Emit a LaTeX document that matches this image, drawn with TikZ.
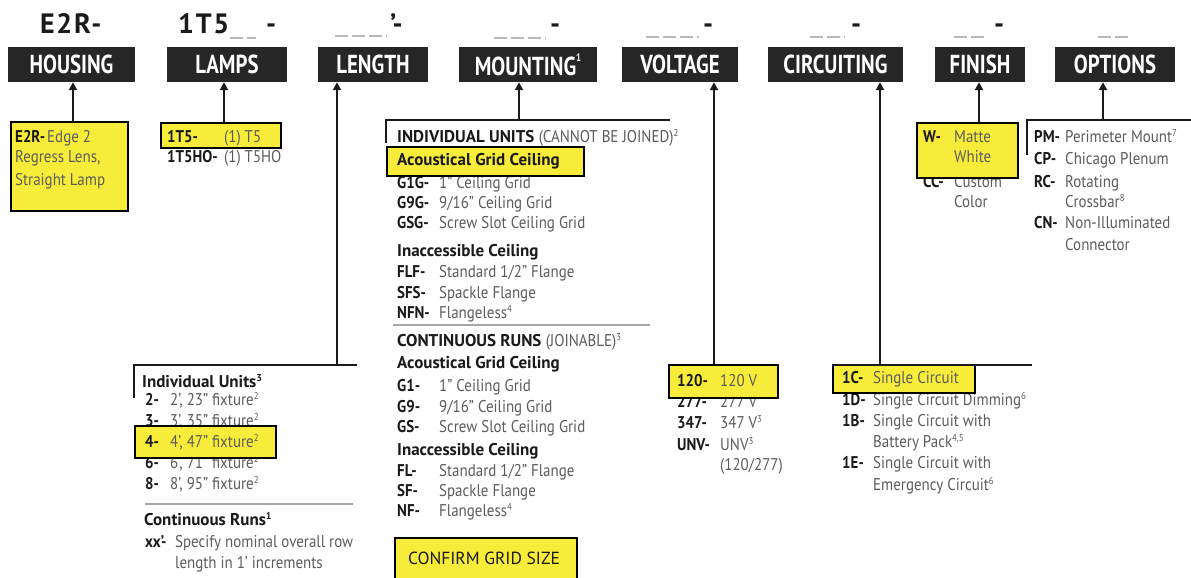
\documentclass[tikz,border=0pt]{standalone}
\usepackage{fontspec}
\setmainfont{PT Sans}[FakeStretch=0.88]
\newfontfamily\hdrfont{PT Sans}[FakeStretch=0.8]
\newfontfamily\heavyfont{PT Sans}
\newfontfamily\topfont{PT Sans}[LetterSpace=6]
\usetikzlibrary{arrows.meta}
\definecolor{hdr}{HTML}{262626}
\definecolor{yel}{HTML}{F7EC3A}
\definecolor{dsc}{HTML}{5C5C5C}
\definecolor{cod}{HTML}{1A1A1A}
\newcommand\sups[1]{\raisebox{0.38em}{\fontsize{10}{10}\selectfont #1}}
\begin{document}
\begin{tikzpicture}[x=1pt,y=-1pt,
 hdrbox/.style={fill=hdr, text=white, font=\hdrfont\bfseries\fontsize{26}{26}\selectfont, minimum height=35pt, inner sep=0pt},
 ybox/.style={fill=yel, draw=black, line width=2pt, inner sep=0pt, anchor=north west},
 cd/.style={anchor=base west, inner sep=0pt, text=cod, font=\bfseries\fontsize{17}{20}\selectfont},
 ds/.style={anchor=base west, inner sep=0pt, text=dsc, font=\fontsize{17}{20}\selectfont},
 hd/.style={anchor=base west, inner sep=0pt, text=cod, font=\heavyfont\bfseries\fontsize{17}{20}\selectfont},
 topc/.style={anchor=base west, inner sep=0pt, text=cod, font=\topfont\bfseries\fontsize{28}{28}\selectfont},
 blank/.style={draw=gray!55, line width=2pt, dash pattern=on 13pt off 4pt},
 arr/.style={line width=2.5pt, draw=cod, -{Triangle[length=8pt,width=8pt]}},
 brk/.style={line width=2.5pt, draw=cod},
 sep/.style={line width=2pt, draw=gray!70}]
\useasboundingbox (0,0) rectangle (1191,578);
\fill[white] (0,0) rectangle (1191,578);

% ---- top code row
\node[topc] (c1) at (40,34) {E2R-};
\node[topc] (c2) at (178,34) {1T5};
\draw[blank] (230,38) -- (256,38);
\node[topc] (c2d) at (266,34) {-};
\draw[blank] (335,36) -- (387,36);
\node[topc] (c3d) at (390,34) {’-};
\draw[blank] (494,38) -- (546,38);
\node[topc] (c4d) at (550,34) {-};
\draw[blank] (646,37) -- (699,37);
\node[topc] (c5d) at (703,34) {-};
\draw[blank] (810,37) -- (845,37);
\node[topc] (c6d) at (851,34) {-};
\draw[blank] (954,37) -- (988,37);
\node[topc] (c7d) at (994,34) {-};
\draw[blank] (1098,37) -- (1132,37);

% ---- header boxes
\node[hdrbox, minimum width=127pt] (hou) at (71.5,64.5) {HOUSING};
\node[hdrbox, minimum width=120pt] (lam) at (227,64.5) {LAMPS};
\node[hdrbox, minimum width=110pt] (len) at (373,64.5) {LENGTH};
\node[hdrbox, minimum width=138pt] (mou) at (528,64.5) {MOUNTING\raisebox{0.55em}{\fontsize{11}{11}\selectfont 1}};
\node[hdrbox, minimum width=116pt] (vol) at (680,64.5) {VOLTAGE};
\node[hdrbox, minimum width=135pt] (cir) at (835.5,64.5) {CIRCUITING};
\node[hdrbox, minimum width=90pt] (fin) at (980,64.5) {FINISH};
\node[hdrbox, minimum width=120pt] (opt) at (1115,64.5) {OPTIONS};

% ---- non-highlighted text
% lamps
\node[cd] (t5hoc) at (167,162.5) {1T5HO-};
\node[ds] (t5hod) at (224,162.5) {(1) T5HO};
% mounting
\node[hd] (iu) at (397,142.5) {INDIVIDUAL UNITS \normalfont\mdseries\color{dsc}(CANNOT BE JOINED)\sups{2}};
\node[cd] (g1gc) at (397,188.5) {G1G-};
\node[ds] (g1gd) at (439,188.5) {1” Ceiling Grid};
\node[cd] (g9gc) at (397,208.5) {G9G-};
\node[ds] (g9gd) at (439,208.5) {9/16” Ceiling Grid};
\node[cd] (gsgc) at (397,228.5) {GSG-};
\node[ds] (gsgd) at (439,228.5) {Screw Slot Ceiling Grid};
\node[hd] (ic1) at (397,256.5) {Inaccessible Ceiling};
\node[cd] (flfc) at (397,277.5) {FLF-};
\node[ds] (flfd) at (439,277.5) {Standard 1/2” Flange};
\node[cd] (sfsc) at (397,298.5) {SFS-};
\node[ds] (sfsd) at (439,298.5) {Spackle Flange};
\node[cd] (nfnc) at (397,318.5) {NFN-};
\node[ds] (nfnd) at (439,318.5) {Flangeless\sups{4}};
\draw[sep] (393,325) -- (650,325);
\node[hd] (cr) at (397,346.5) {CONTINUOUS RUNS \normalfont\mdseries\color{dsc}(JOINABLE)\sups{3}};
\node[hd] (agc2) at (397,368.5) {Acoustical Grid Ceiling};
\node[cd] (g1c) at (397,391.5) {G1-};
\node[ds] (g1d) at (439,391.5) {1” Ceiling Grid};
\node[cd] (g9c) at (397,412.5) {G9-};
\node[ds] (g9d) at (439,412.5) {9/16” Ceiling Grid};
\node[cd] (gsc) at (397,432.5) {GS-};
\node[ds] (gsd) at (439,432.5) {Screw Slot Ceiling Grid};
\node[hd] (ic2) at (397,455.5) {Inaccessible Ceiling};
\node[cd] (flc) at (397,476.5) {FL-};
\node[ds] (fld) at (439,476.5) {Standard 1/2” Flange};
\node[cd] (sfc) at (397,496.5) {SF-};
\node[ds] (sfd) at (439,496.5) {Spackle Flange};
\node[cd] (nfc) at (397,516.5) {NF-};
\node[ds] (nfd) at (439,516.5) {Flangeless\sups{4}};
% length
\node[hd] (iun) at (142,387.5) {Individual Units\sups{3}};
\node[cd] (l2c) at (145,405.5) {2-};
\node[ds] (l2d) at (170,405.5) {2’, 23” fixture\sups{2}};
\node[cd] (l3c) at (145,426.5) {3-};
\node[ds] (l3d) at (170,426.5) {3’, 35” fixture\sups{2}};
\node[cd] (l6c) at (145,468.5) {6-};
\node[ds] (l6d) at (170,468.5) {6’, 71” fixture\sups{2}};
\node[cd] (l8c) at (145,489.5) {8-};
\node[ds] (l8d) at (170,489.5) {8’, 95” fixture\sups{2}};
\draw[sep] (145,504) -- (353,504);
\node[hd] (crn) at (144,525.5) {Continuous Runs\sups{1}};
\node[cd] (xxc) at (145,547.5) {xx’-};
\node[ds] (xxd) at (175,547.5) {Specify nominal overall row};
\node[ds] (xxd2) at (175,568.5) {length in 1’ increments};
% voltage
\node[cd] (v277c) at (677,407.5) {277-};
\node[ds] (v277d) at (720,407.5) {277 V};
\node[cd] (v347c) at (677,428.5) {347-};
\node[ds] (v347d) at (720,428.5) {347 V\sups{3}};
\node[cd] (unvc) at (677,450.5) {UNV-};
\node[ds] (unvd) at (720,450.5) {UNV\sups{3}};
\node[ds] (unvd2) at (720,470.5) {(120/277)};
% circuiting
\node[cd] (c1dc) at (842,405.5) {1D-};
\node[ds] (c1dd) at (873,405.5) {Single Circuit Dimming\sups{6}};
\node[cd] (c1bc) at (842,426.5) {1B-};
\node[ds] (c1bd) at (873,426.5) {Single Circuit with};
\node[ds] (c1bd2) at (873,447.5) {Battery Pack\sups{4,5}};
\node[cd] (c1ec) at (842,468.5) {1E-};
\node[ds] (c1ed) at (873,468.5) {Single Circuit with};
\node[ds] (c1ed2) at (873,490.5) {Emergency Circuit\sups{6}};
% finish
\node[cd] (ccc) at (923,187.5) {CC-};
\node[ds] (ccd) at (954,187.5) {Custom};
\node[ds] (ccd2) at (954,207.5) {Color};
% options
\node[cd] (pmc) at (1034,142.5) {PM-};
\node[ds] (pmd) at (1065,142.5) {Perimeter Mount\sups{7}};
\node[cd] (cpc) at (1034,164.5) {CP-};
\node[ds] (cpd) at (1065,164.5) {Chicago Plenum};
\node[cd] (rcc) at (1034,187.5) {RC-};
\node[ds] (rcd) at (1065,187.5) {Rotating};
\node[ds] (rcd2) at (1065,207.5) {Crossbar\sups{8}};
\node[cd] (cnc) at (1034,228.5) {CN-};
\node[ds] (cnd) at (1065,228.5) {Non-Illuminated};
\node[ds] (cnd2) at (1065,250.5) {Connector};

% ---- yellow highlight boxes
\node[ybox, minimum width=117pt, minimum height=89pt] (e2rb) at (10,121) {};
\node[ybox, minimum width=120pt, minimum height=25pt] (t5b) at (160,122) {};
\node[ybox, minimum width=197pt, minimum height=29pt] (agb) at (386,146) {};
\node[ybox, minimum width=141pt, minimum height=32pt] (l4b) at (134,425) {};
\node[ybox, minimum width=109pt, minimum height=33pt] (v120b) at (668,364) {};
\node[ybox, minimum width=142pt, minimum height=28pt] (c1cb) at (832,364) {};
\node[ybox, minimum width=101pt, minimum height=55pt] (wb) at (916,122) {};
\node[ybox, minimum width=182pt, minimum height=48pt] (cgb) at (394,537) {};

% ---- highlighted text
\node[cd] (e2rc) at (15,142.5) {E2R-};
\node[ds] (e2rd) at (47,142.5) {Edge 2};
\node[ds] (e2rd2) at (15,162.5) {Regress Lens,};
\node[ds] (e2rd3) at (15,185.5) {Straight Lamp};
\node[cd] (t5c) at (167,142.5) {1T5-};
\node[ds] (t5d) at (224,142.5) {(1) T5};
\node[hd] (agc1) at (397,165.5) {Acoustical Grid Ceiling};
\node[cd] (l4c) at (145,447.5) {4-};
\node[ds] (l4d) at (170,447.5) {4’, 47” fixture\sups{2}};
\node[cd] (v120c) at (677,386.5) {120-};
\node[ds] (v120d) at (720,386.5) {120 V};
\node[cd] (c1cc) at (842,383.5) {1C-};
\node[ds] (c1cd) at (873,383.5) {Single Circuit};
\node[cd] (wc) at (923,142.5) {W-};
\node[ds] (wd) at (954,142.5) {Matte};
\node[ds] (wd2) at (954,162.5) {White};
\node[text=cod, font=\heavyfont\fontsize{17.5}{20}\selectfont, inner sep=0pt] (cgt) at (484,558) {CONFIRM GRID SIZE};

% ---- brackets and connectors
\coordinate (lenL) at (134,398);
\coordinate (lenR) at (357,365);
\coordinate (lenA) at (337,365);
\draw[brk] (lenL) -- (lenL |- lenR) -- (lenR);
\coordinate (mouL) at (386,143);
\coordinate (mouR) at (670,120);
\coordinate (mouA) at (519,120);
\draw[brk] (mouL) -- (mouL |- mouR) -- (mouR);
\coordinate (cirL) at (832,365);
\coordinate (cirR) at (1032,365);
\coordinate (cirA) at (880,365);
\draw[brk] (cirL) -- (cirR);
\coordinate (optL) at (1027,155);
\coordinate (optR) at (1191,120);
\coordinate (optA) at (1103,120);
\draw[brk] (optL) -- (optL |- optR) -- (optR);
\coordinate (houA) at (73,121);
\coordinate (lamA) at (224,122);
\coordinate (volA) at (714,364);
\coordinate (finA) at (979,122);

\draw[arr] (houA) -- (houA |- hou.south);
\draw[arr] (lamA) -- (lamA |- lam.south);
\draw[arr] (lenA) -- (lenA |- len.south);
\draw[arr] (mouA) -- (mouA |- mou.south);
\draw[arr] (volA) -- (volA |- vol.south);
\draw[arr] (cirA) -- (cirA |- cir.south);
\draw[arr] (finA) -- (finA |- fin.south);
\draw[arr] (optA) -- (optA |- opt.south);
\end{tikzpicture}
\end{document}
